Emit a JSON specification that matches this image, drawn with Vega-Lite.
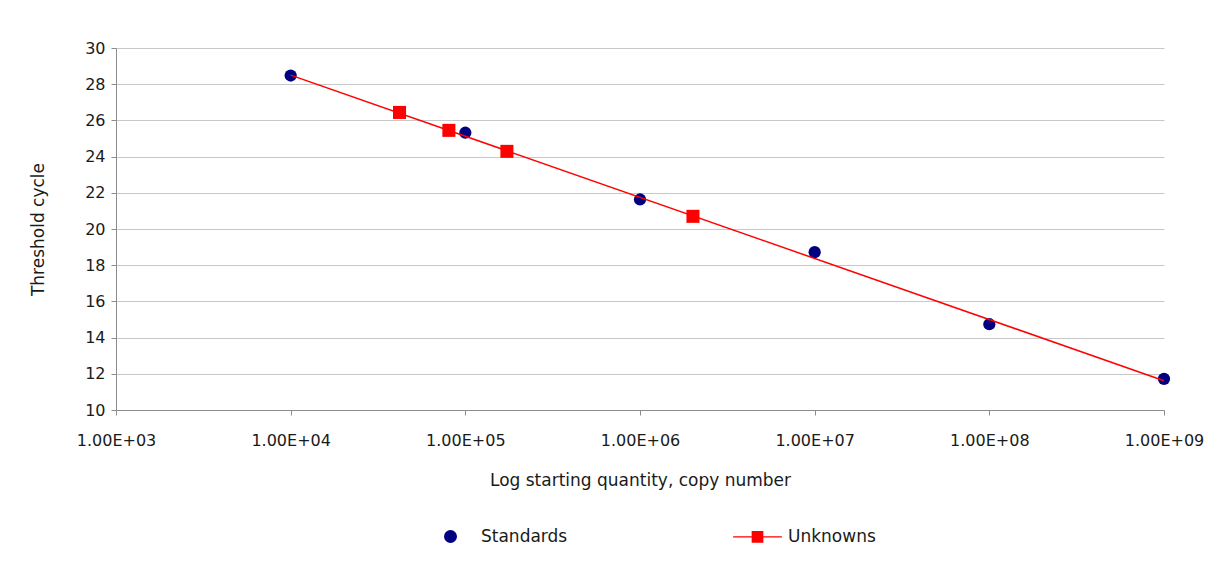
{
  "$schema": "https://vega.github.io/schema/vega-lite/v6.json",
  "width": 1048,
  "height": 362,
  "autosize": "none",
  "padding": {"left": 116, "top": 48, "right": 46, "bottom": 153},
  "background": "white",
  "config": {
    "font": "DejaVu Sans",
    "view": {"stroke": null},
    "axis": {
      "domainColor": "#8c8c8c",
      "tickColor": "#8c8c8c",
      "tickSize": 5,
      "labelColor": "#1a1a1a",
      "labelFontSize": 16,
      "titleColor": "#1a1a1a",
      "titleFontSize": 17,
      "titleFontWeight": "normal",
      "labelOverlap": false,
      "labelFlush": false
    },
    "legend": {
      "orient": "none", "direction": "horizontal",
      "legendX": 326, "legendY": 480,
      "symbolSize": 169, "labelFontSize": 17, "labelColor": "#1a1a1a",
      "labelOffset": 22, "columnPadding": 162, "symbolOpacity": 1
    }
  },
  "encoding": {
    "x": {"field": "quantity", "type": "quantitative",
      "scale": {"type": "log", "domain": [1000, 1000000000], "nice": false},
      "axis": {"values": [1000, 10000, 100000, 1000000, 10000000, 100000000, 1000000000],
        "labelExpr": "'1.00E+0' + round(log(datum.value) / LN10)",
        "grid": false, "labelPadding": 17, "titlePadding": 24,
        "title": "Log starting quantity, copy number"}},
    "y": {"field": "ct", "type": "quantitative",
      "scale": {"domain": [10, 30], "nice": false, "zero": false},
      "axis": {"values": [10, 12, 14, 16, 18, 20, 22, 24, 26, 28, 30], "tickCount": 11,
        "grid": true, "gridColor": "#c8c8c8", "labelPadding": 6, "titlePadding": 37,
        "title": "Threshold cycle"}}
  },
  "layer": [
    {
      "data": {"values": [
        {"quantity": 10000, "ct": 28.48, "series": "Standards"},
        {"quantity": 100000, "ct": 25.32, "series": "Standards"},
        {"quantity": 1000000, "ct": 21.63, "series": "Standards"},
        {"quantity": 10000000, "ct": 18.72, "series": "Standards"},
        {"quantity": 100000000, "ct": 14.74, "series": "Standards"},
        {"quantity": 1000000000, "ct": 11.72, "series": "Standards"}
      ]},
      "mark": {"type": "point", "filled": true, "opacity": 1, "size": 150},
      "encoding": {
        "color": {"field": "series", "type": "nominal",
          "scale": {"domain": ["Standards", "Unknowns"], "range": ["#000080", "#FF0000"]},
          "legend": {"title": null}},
        "shape": {"field": "series", "type": "nominal",
          "scale": {"domain": ["Standards", "Unknowns"],
            "range": ["circle", "M-3.75,-0.09H3.75V0.09H-3.75Z M-0.9,-0.9H0.9V0.9H-0.9Z"]},
          "legend": {"title": null}}
      }
    },
    {
      "data": {"values": [
        {"quantity": 10000, "ct": 28.5},
        {"quantity": 1000000000, "ct": 11.62}
      ]},
      "mark": {"type": "line", "color": "#FF0000", "strokeWidth": 1.5},
      "encoding": {}
    },
    {
      "data": {"values": [
        {"quantity": 42000, "ct": 26.44, "series": "Unknowns"},
        {"quantity": 80500, "ct": 25.45, "series": "Unknowns"},
        {"quantity": 173000, "ct": 24.29, "series": "Unknowns"},
        {"quantity": 2010000, "ct": 20.7, "series": "Unknowns"}
      ]},
      "mark": {"type": "point", "filled": true, "opacity": 1, "size": 170, "shape": "square"},
      "encoding": {
        "color": {"field": "series", "type": "nominal"}
      }
    }
  ]
}
